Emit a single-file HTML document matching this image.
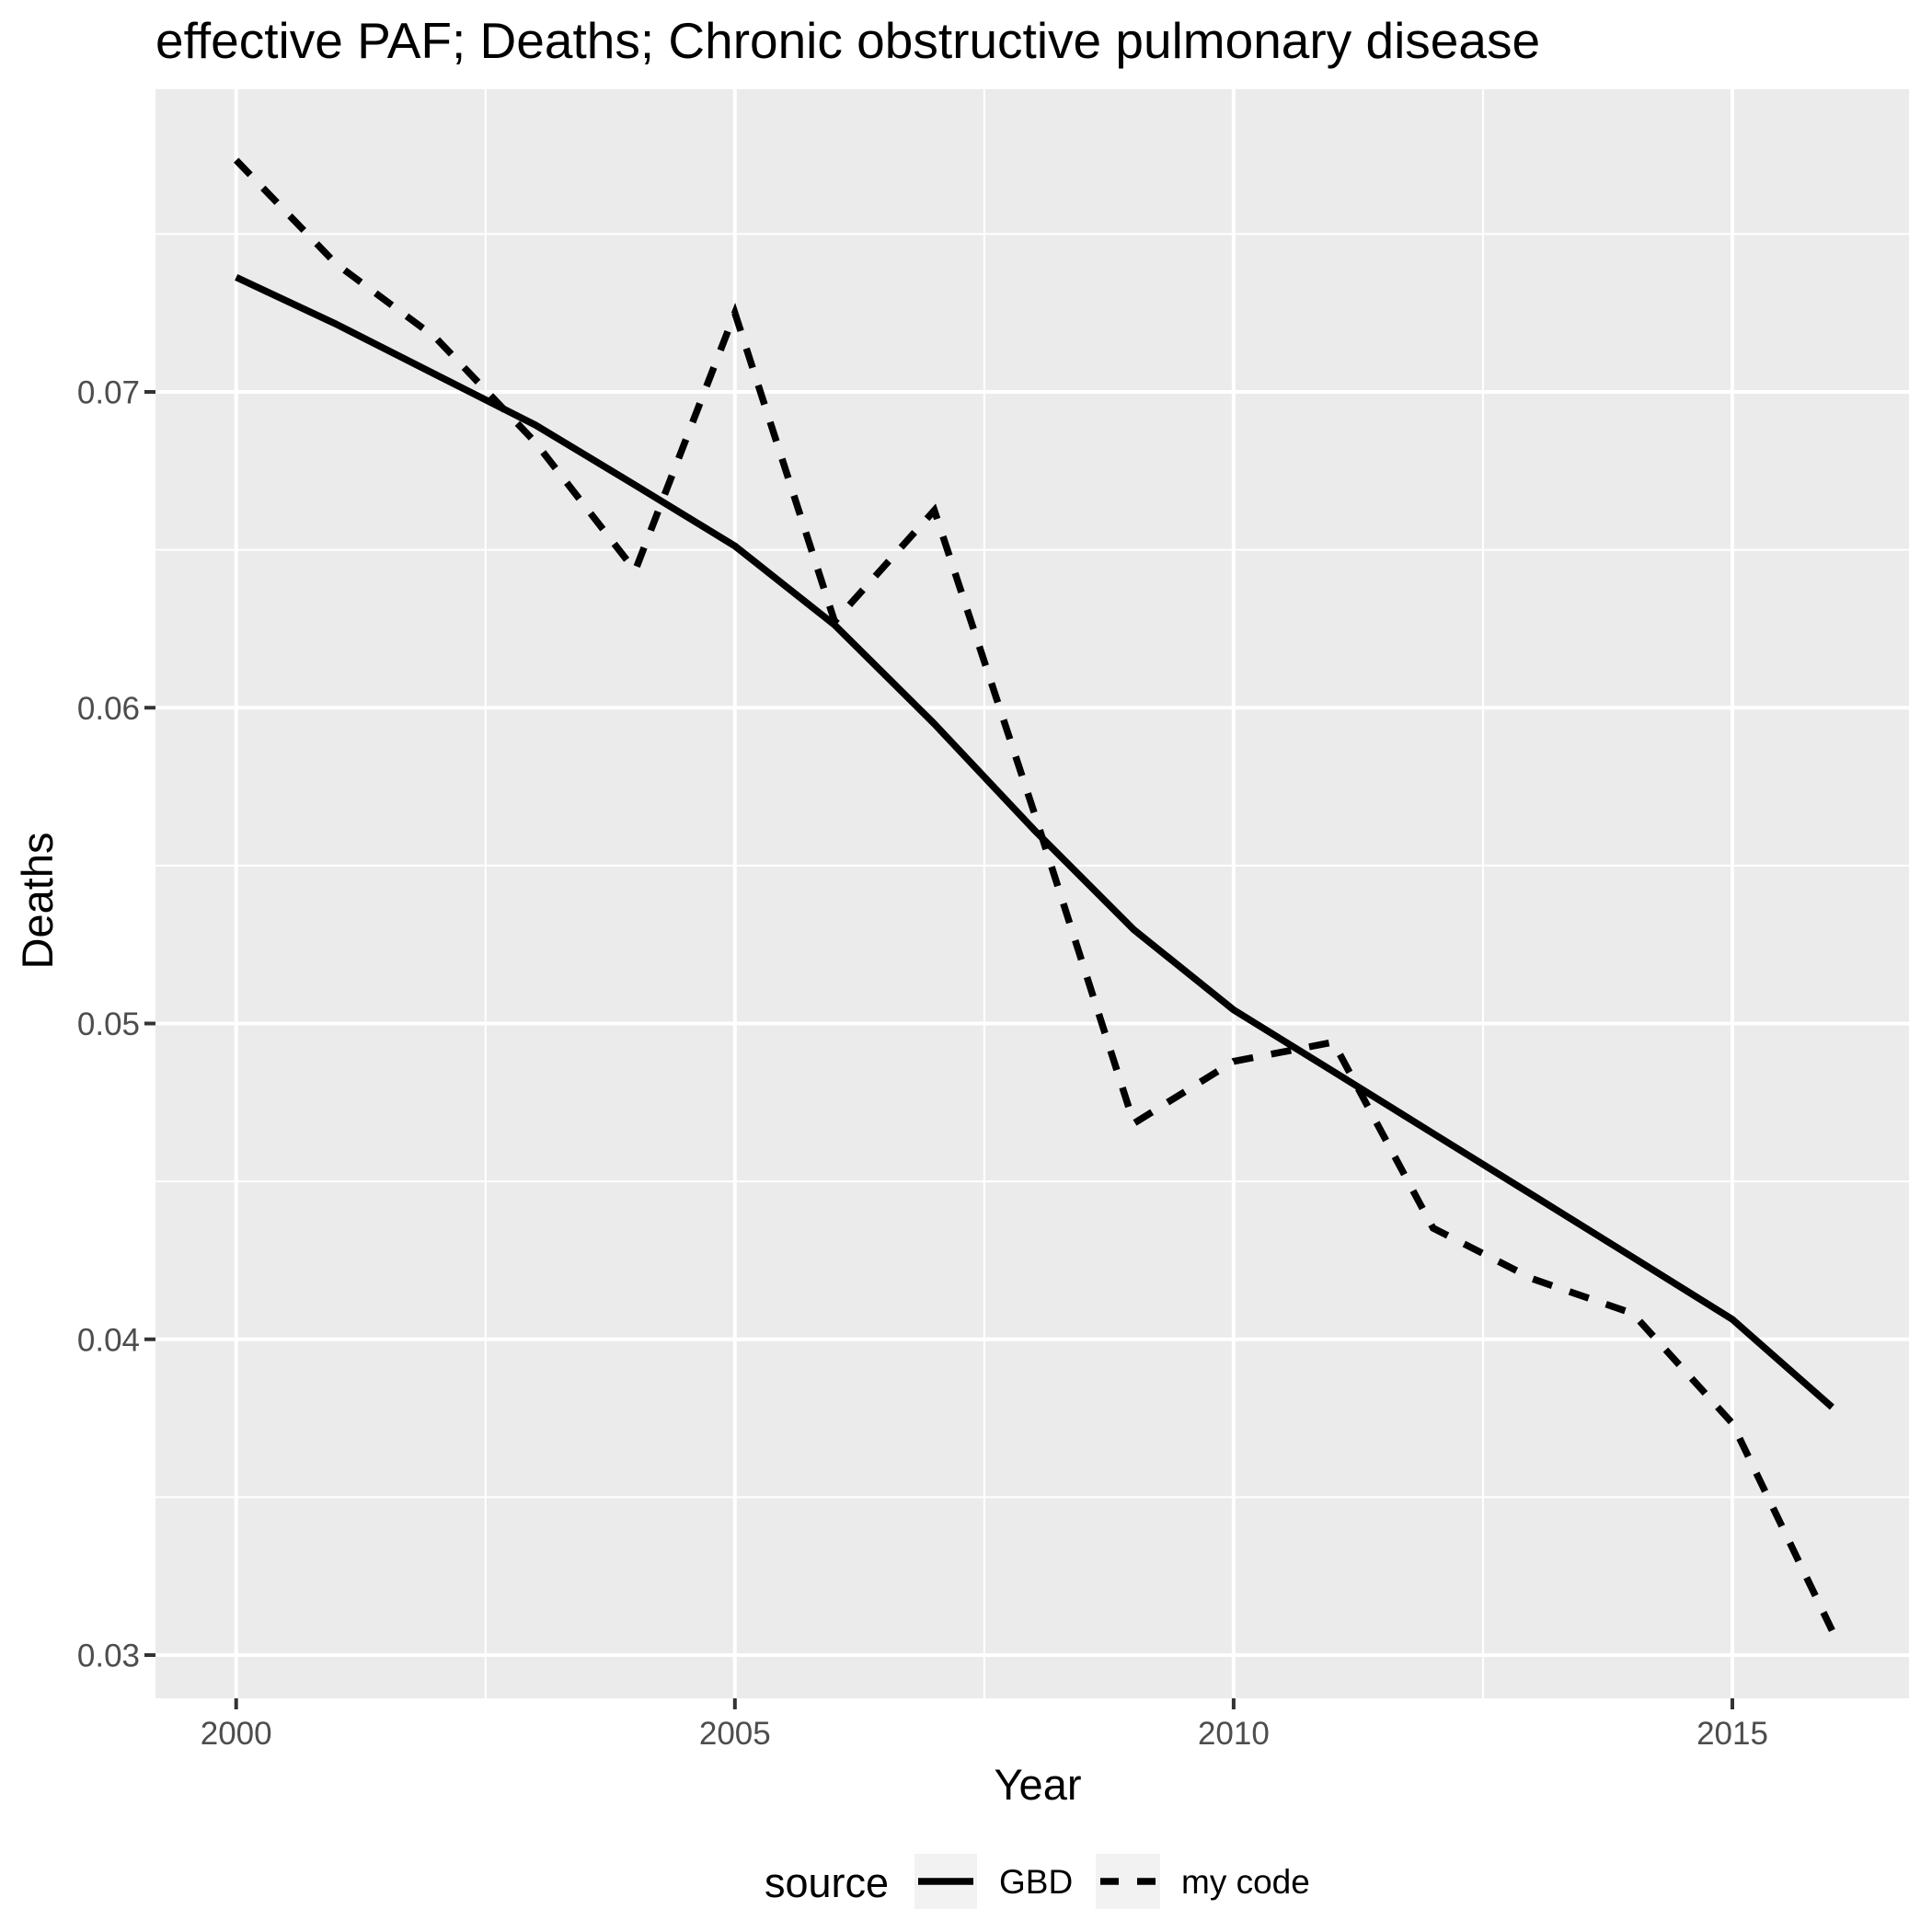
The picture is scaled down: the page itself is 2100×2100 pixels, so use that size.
<!DOCTYPE html>
<html><head><meta charset="utf-8"><style>
body{margin:0;background:#fff}
svg{display:block;font-family:"Liberation Sans",Arial,sans-serif}
</style></head><body>
<svg id="chart" width="2100" height="2100" viewBox="0 0 2100 2100">
<rect x="169" y="97" width="1906" height="1749" fill="#EBEBEB"/>
<text x="169" y="63" font-size="55" fill="#000">effective PAF; Deaths; Chronic obstructive pulmonary disease</text>
<g id="grid"></g>
<g id="series"></g>
<g id="axes"></g>
<text x="1128" y="1956" font-size="47" text-anchor="middle">Year</text>
<text transform="translate(57,979) rotate(-90)" font-size="47" text-anchor="middle">Deaths</text>
<g>
<text x="831" y="2062" font-size="45">source</text>
<rect x="994" y="2015" width="68" height="60" fill="#F2F2F2"/>
<line x1="998" y1="2045" x2="1058" y2="2045" stroke="#000" stroke-width="7.5"/>
<text x="1086" y="2058" font-size="37">GBD</text>
<rect x="1191" y="2015" width="70" height="60" fill="#F2F2F2"/>
<line x1="1196" y1="2045" x2="1256" y2="2045" stroke="#000" stroke-width="7.5" stroke-dasharray="20 20"/>
<text x="1284" y="2058" font-size="37">my code</text>
</g>
</svg>
<script>
const years=[2000,2001,2002,2003,2004,2005,2006,2007,2008,2009,2010,2011,2012,2013,2014,2015,2016];
const gbdValues=[0.07363,0.07215,0.07055,0.06895,0.06705,0.06512,0.06262,0.05949,0.05613,0.05297,0.05043,0.04848,0.04652,0.04456,0.0426,0.04063,0.03785];
const myCodeValues=[0.07734,0.07406,0.07172,0.0684,0.06434,0.0725,0.06273,0.06625,0.05668,0.04684,0.0488,0.04941,0.04352,0.04191,0.04082,0.03734,0.03078];
const xTicks=[2000,2005,2010,2015];
const xMinor=[2002.5,2007.5,2012.5];
const yTicks=[0.03,0.04,0.05,0.06,0.07];
const yTickLabels=["0.03","0.04","0.05","0.06","0.07"];
const yMinor=[0.035,0.045,0.055,0.065,0.075];

const NS="http://www.w3.org/2000/svg";
const L=169,R=2075,T=97,B=1846;
function xs(v){return 256.7+(v-2000)*(1883-256.7)/15;}
function ys(v){return 426+(0.07-v)*(1799-426)/0.04;}
function mk(tag,attrs,parent){const e=document.createElementNS(NS,tag);for(const k in attrs)e.setAttribute(k,attrs[k]);parent.appendChild(e);return e;}
const grid=document.getElementById('grid'),axes=document.getElementById('axes'),series=document.getElementById('series');
yMinor.forEach(v=>{const y=ys(v);if(y<T||y>B)return;const l=mk('line',{x1:L,x2:R,y1:y,y2:y,stroke:'#fff','stroke-width':2},grid);

});
xMinor.forEach(v=>{const x=xs(v);const l=mk('line',{x1:x,x2:x,y1:T,y2:B,stroke:'#fff','stroke-width':2},grid);

});
yTicks.forEach((v,i)=>{const y=ys(v);const l=mk('line',{x1:L,x2:R,y1:y,y2:y,stroke:'#fff','stroke-width':4},grid);


const t=mk('line',{x1:L-12,x2:L,y1:y,y2:y,stroke:'#333','stroke-width':4},axes);


const tx=mk('text',{x:L-17,y:y+12.5,'font-size':35,fill:'#4D4D4D','text-anchor':'end'},axes);tx.textContent=yTickLabels[i];

});
xTicks.forEach(v=>{const x=xs(v);const l=mk('line',{x1:x,x2:x,y1:T,y2:B,stroke:'#fff','stroke-width':4},grid);


const t=mk('line',{x1:x,x2:x,y1:B,y2:B+12,stroke:'#333','stroke-width':4},axes);


const tx=mk('text',{x:x,y:B+50,'font-size':35,fill:'#4D4D4D','text-anchor':'middle'},axes);tx.textContent=String(v);

});
function pts(vals){return vals.map((v,i)=>xs(years[i]).toFixed(1)+','+ys(v).toFixed(1)).join(' ');}
const g=mk('polyline',{points:pts(gbdValues),fill:'none',stroke:'#000','stroke-width':7.5,'stroke-linejoin':'round'},series);


const m=mk('polyline',{points:pts(myCodeValues),fill:'none',stroke:'#000','stroke-width':7.5,'stroke-dasharray':'22 20'},series);


</script>
</body></html>
